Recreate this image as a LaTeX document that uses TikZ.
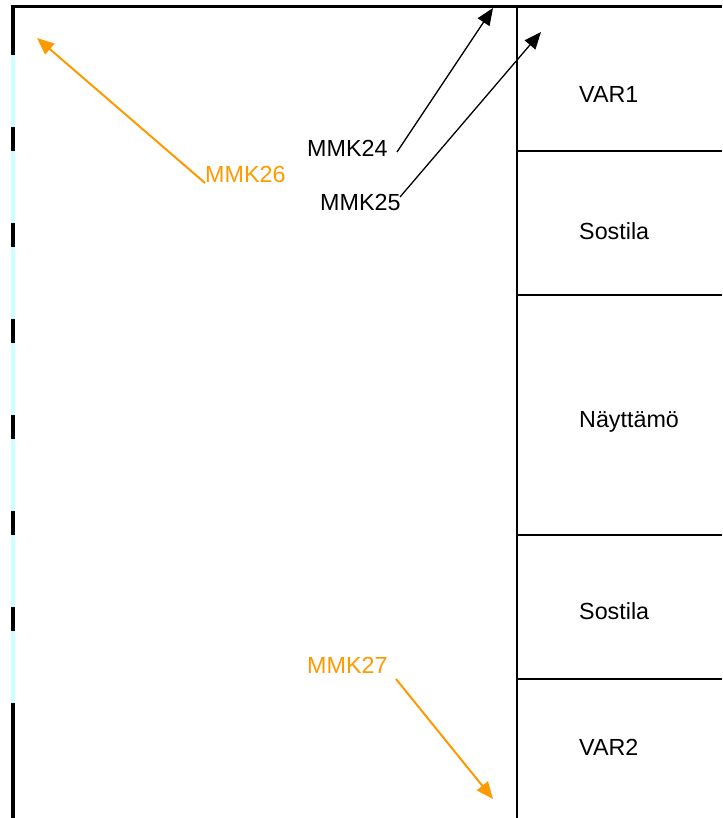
\documentclass[tikz,border=0pt]{standalone}
\usepackage{fontspec}
\setmainfont{Liberation Sans}
\usetikzlibrary{arrows.meta}
\definecolor{mmkorange}{RGB}{255,153,0}
\definecolor{wallcyan}{RGB}{204,255,255}
\tikzset{
  lbl/.style={anchor=base west, inner sep=0pt, font=\fontsize{23.3}{27}\selectfont},
  olbl/.style={lbl, text=mmkorange},
  barr/.style={draw=black, line width=1.3pt, -{Triangle[length=17pt,width=14pt]}},
  oarr/.style={draw=mmkorange, line width=2pt, -{Triangle[length=17pt,width=14pt]}},
  divider/.style={draw=black, line width=2pt},
  wallblack/.style={draw=black, line width=4pt},
  wallgap/.style={draw=wallcyan, line width=4pt}
}
\begin{document}
\begin{tikzpicture}[x=1pt,y=-1pt]
\useasboundingbox (0,0) rectangle (722,818);
% top border
\draw[black, line width=3pt] (11,7) -- (722,7);
% left wall: cyan background with black segments
\draw[wallgap] (13,7) -- (13,818);
\draw[wallblack] (13,5.5) -- (13,55);
\foreach \y in {127,223,319,415,511,607} {
  \draw[wallblack] (13,\y) -- (13,\y+24);
}
\draw[wallblack] (13,703) -- (13,818);
% right column
\draw[divider] (517,7) -- (517,818);
\foreach \y in {151,295,535,679} {
  \draw[divider] (517,\y) -- (722,\y);
}
\node[lbl] (var1) at (579,103) {VAR1};
\node[lbl] (sost1) at (579,239) {Sostila};
\node[lbl] (nayt) at (579,427) {Näyttämö};
\node[lbl] (sost2) at (579,619) {Sostila};
\node[lbl] (var2) at (579,755) {VAR2};
% labels
\node[lbl] (m24) at (307,157) {MMK24};
\node[lbl] (m25) at (320,211) {MMK25};
\node[olbl] (m26) at (205,183) {MMK26};
\node[olbl] (m27) at (307,673) {MMK27};
% arrow end points
\coordinate (s24) at (397,152);
\coordinate (t24) at (493,8);
\coordinate (s25) at (400,197);
\coordinate (t25) at (541,32);
\coordinate (s26) at (205,183);
\coordinate (t26) at (37,38);
\coordinate (s27) at (396,679);
\coordinate (t27) at (493,799);
\draw[barr] (s24) -- (t24);
\draw[barr] (s25) -- (t25);
\draw[oarr] (s26) -- (t26);
\draw[oarr] (s27) -- (t27);
\end{tikzpicture}
\end{document}
